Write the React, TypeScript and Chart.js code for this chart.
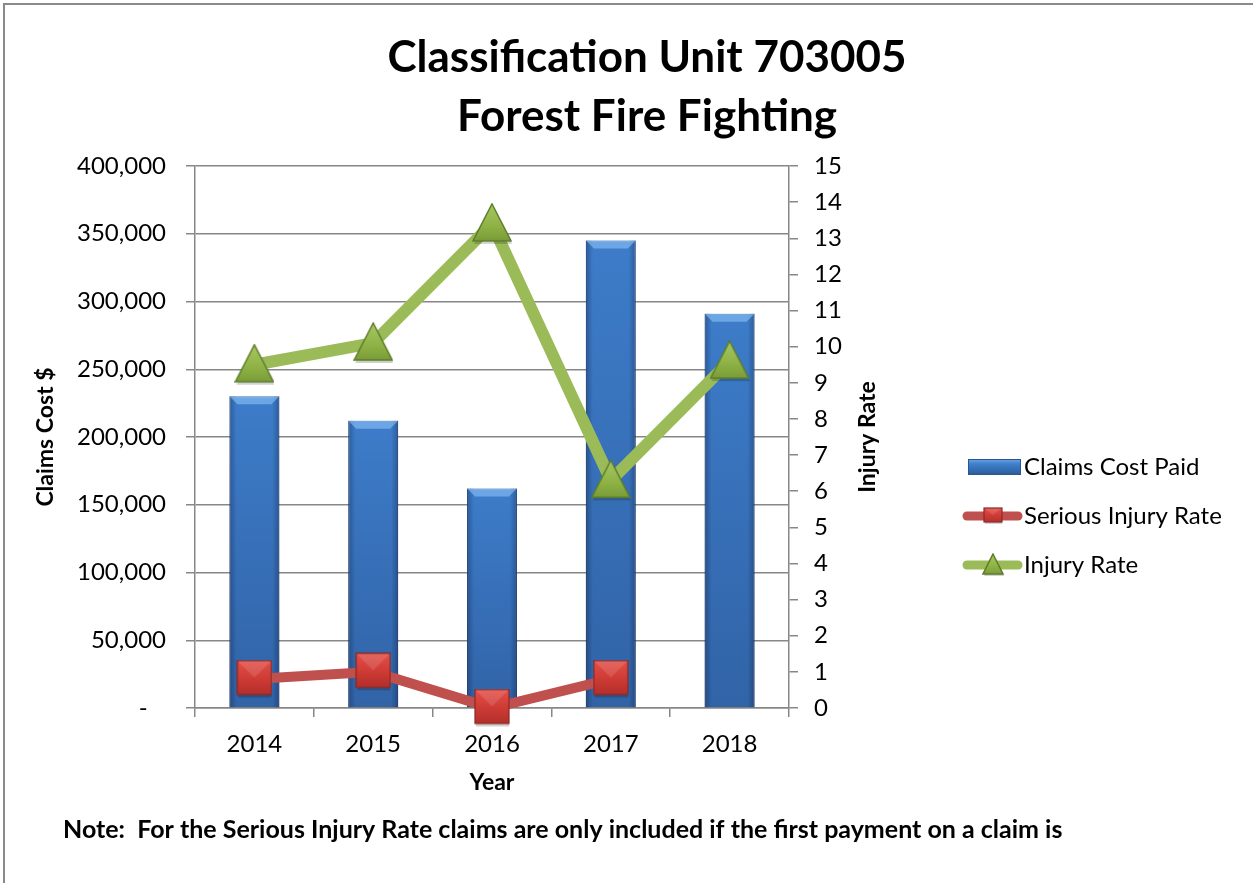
import React, { useEffect, useRef } from 'react';
import { Chart, registerables } from 'chart.js';

Chart.register(...registerables);

const years = ['2014', '2015', '2016', '2017', '2018'];
const claimsCostPaid = [230000, 212000, 162000, 345000, 291000];
const seriousInjuryRate = [0.8, 1.0, 0, 0.8, null];
const injuryRate = [9.5, 10.1, 13.4, 6.3, 9.6];
const seriesLabels = ['Claims Cost Paid', 'Serious Injury Rate', 'Injury Rate'];
const chartTitle = ['Classification Unit 703005', 'Forest Fire Fighting'];
const leftAxisTitle = 'Claims Cost $';
const rightAxisTitle = 'Injury Rate';
const xAxisTitle = 'Year';
const noteText = 'Note:  For the Serious Injury Rate claims are only included if the first payment on a claim is';

const FONT = 'Lato, "Open Sans", sans-serif';
const W = 1253;
const H = 883;
const GRID = '#878787';

function makeTriangle(w: number, h: number, shadow: number) {
  const c = document.createElement('canvas');
  c.width = w;
  c.height = h;
  const g = c.getContext('2d')!;
  const th = h - shadow;
  const path = (dx: number, dy: number) => {
    g.beginPath();
    g.moveTo(w / 2 + dx, 1 + dy);
    g.lineTo(w - 1 + dx, th - 1 + dy);
    g.lineTo(1 + dx, th - 1 + dy);
    g.closePath();
  };
  path(1, shadow);
  g.fillStyle = 'rgba(0,0,0,0.18)';
  g.fill();
  path(0, 0);
  const grad = g.createLinearGradient(0, 0, 0, th);
  grad.addColorStop(0, '#A8C964');
  grad.addColorStop(0.6, '#8FB246');
  grad.addColorStop(1, '#789B37');
  g.fillStyle = grad;
  g.fill();
  g.strokeStyle = '#5E7C2A';
  g.lineWidth = 1.5;
  g.stroke();
  return c;
}

function makeSquare(w: number, h: number, shadow: number) {
  const c = document.createElement('canvas');
  c.width = w;
  c.height = h;
  const g = c.getContext('2d')!;
  const s = h - shadow;
  g.fillStyle = 'rgba(0,0,0,0.18)';
  g.fillRect(2, 1 + shadow, w - 3, s - 2);
  const grad = g.createLinearGradient(0, 0, 0, s);
  grad.addColorStop(0, '#E4524C');
  grad.addColorStop(0.5, '#D03C36');
  grad.addColorStop(1, '#B12E2A');
  g.fillStyle = grad;
  g.fillRect(1, 1, w - 2, s - 2);
  g.fillStyle = 'rgba(255,255,255,0.12)';
  g.beginPath();
  g.moveTo(1, 1);
  g.lineTo(w - 1, 1);
  g.lineTo(w / 2, s / 2);
  g.closePath();
  g.fill();
  g.strokeStyle = '#8C2824';
  g.lineWidth = 1.2;
  g.strokeRect(1, 1, w - 2, s - 2);
  return c;
}

const fin = (...v: number[]) => v.every((n) => Number.isFinite(n));

const barShade = {
  id: 'barShade',
  afterDatasetDraw(chart: any, args: any) {
    if (args.index !== 0) return;
    const ctx = chart.ctx;
    args.meta.data.forEach((bar: any) => {
      const { x, y, base, width } = bar.getProps(['x', 'y', 'base', 'width'], true);
      if (!fin(x, y, base, width)) return;
      const l = x - width / 2;
      const r = x + width / 2;
      const bev = 8;
      ctx.save();
      const hg = ctx.createLinearGradient(l, 0, r, 0);
      hg.addColorStop(0, 'rgba(10,30,70,0.35)');
      hg.addColorStop(0.14, 'rgba(10,30,70,0)');
      hg.addColorStop(0.86, 'rgba(10,30,70,0)');
      hg.addColorStop(1, 'rgba(10,30,70,0.35)');
      ctx.fillStyle = hg;
      ctx.fillRect(l, y, width, base - y);
      const g = ctx.createLinearGradient(0, y, 0, base);
      g.addColorStop(0, 'rgba(0,0,30,0)');
      g.addColorStop(1, 'rgba(0,0,30,0.2)');
      ctx.fillStyle = g;
      ctx.fillRect(l, y + bev, width, base - y - bev);
      ctx.fillStyle = 'rgba(150,200,250,0.55)';
      ctx.beginPath();
      ctx.moveTo(l, y);
      ctx.lineTo(r, y);
      ctx.lineTo(r - bev, y + bev);
      ctx.lineTo(l + bev, y + bev);
      ctx.closePath();
      ctx.fill();
      ctx.restore();
    });
  },
};

const textsPlugin = {
  id: 'texts',
  afterDraw(chart: any) {
    const { ctx, chartArea } = chart;
    ctx.save();
    ctx.fillStyle = '#000';
    ctx.textAlign = 'center';
    ctx.textBaseline = 'middle';
    ctx.font = `bold 44px ${FONT}`;
    ctx.fillText(chartTitle[0], 647, 58);
    ctx.fillText(chartTitle[1], 647, 117);
    ctx.font = `bold 25px ${FONT}`;
    ctx.textAlign = 'left';
    ctx.fillText(noteText, 63, 830);
    ctx.font = `bold 23px ${FONT}`;
    ctx.textAlign = 'center';
    ctx.translate(868, (chartArea.top + chartArea.bottom) / 2);
    ctx.rotate(-Math.PI / 2);
    ctx.fillText(rightAxisTitle, 0, 0);
    ctx.restore();
  },
};

export default function App() {
  const ref = useRef<HTMLCanvasElement>(null);

  useEffect(() => {
    const canvas = ref.current;
    if (!canvas) return;
    const tri = makeTriangle(40, 42, 3);
    const sq = makeSquare(36, 39, 3);
    const triSmall = makeTriangle(22, 24, 2);
    const sqSmall = makeSquare(20, 18, 2);

    const legendPlugin = {
      id: 'customLegend',
      afterDraw(chart: any) {
        const { ctx } = chart;
        const ds = chart.data.datasets;
        const ys = [467, 516, 565];
        const xText = 1024;
        ctx.save();
        const g = ctx.createLinearGradient(0, ys[0] - 8, 0, ys[0] + 8);
        g.addColorStop(0, '#6FA6E6');
        g.addColorStop(0.3, '#3F80CD');
        g.addColorStop(1, '#2B5A98');
        ctx.fillStyle = g;
        ctx.fillRect(968, ys[0] - 8, 53, 16);
        ctx.strokeStyle = '#2A5590';
        ctx.lineWidth = 1;
        ctx.strokeRect(968.5, ys[0] - 7.5, 52, 15);
        const markers = [null, sqSmall, triSmall];
        for (let i = 1; i <= 2; i++) {
          ctx.strokeStyle = ds[i].borderColor;
          ctx.lineWidth = 9;
          ctx.lineCap = 'round';
          ctx.beginPath();
          ctx.moveTo(967, ys[i]);
          ctx.lineTo(1018, ys[i]);
          ctx.stroke();
          const m = markers[i]!;
          ctx.drawImage(m, 993 - m.width / 2, ys[i] - m.height / 2);
        }
        ctx.fillStyle = '#000';
        ctx.font = `24px ${FONT}`;
        ctx.textAlign = 'left';
        ctx.textBaseline = 'middle';
        for (let i = 0; i < 3; i++) ctx.fillText(ds[i].label, xText, ys[i]);
        ctx.restore();
      },
    };

    const tickFont = { family: FONT, size: 24 };
    const titleFont = { family: FONT, size: 23, weight: 'bold' as const };

    const chart = new Chart(canvas, {
      type: 'bar',
      data: {
        labels: years,
        datasets: [
          {
            type: 'bar',
            label: seriesLabels[0],
            data: claimsCostPaid,
            yAxisID: 'y',
            backgroundColor: '#3D7CC9',
            borderColor: '#2A5590',
            borderWidth: 1,
            barPercentage: 0.42,
            categoryPercentage: 1,
            order: 3,
          },
          {
            type: 'line',
            label: seriesLabels[1],
            data: seriousInjuryRate,
            yAxisID: 'y1',
            borderColor: '#C0504D',
            backgroundColor: '#C0504D',
            borderWidth: 10,
            pointStyle: sq,
            pointRadius: 18,
            tension: 0,
            spanGaps: false,
            clip: false,
            order: 2,
          },
          {
            type: 'line',
            label: seriesLabels[2],
            data: injuryRate,
            yAxisID: 'y1',
            borderColor: '#9BBB59',
            backgroundColor: '#9BBB59',
            borderWidth: 12,
            pointStyle: tri,
            pointRadius: 20,
            tension: 0,
            clip: false,
            order: 1,
          },
        ] as any,
      },
      options: {
        responsive: false,
        animation: false,
        devicePixelRatio: 1,
        layout: { padding: { left: 20, right: 0, top: 166, bottom: 60 } },
        plugins: {
          legend: { display: false },
          title: { display: false },
          tooltip: { enabled: false },
        },
        scales: {
          x: {
            position: 'bottom',
            grid: { drawOnChartArea: false, offset: true, color: GRID, lineWidth: 1.5, tickLength: 9 },
            border: { display: true, color: GRID, width: 1.5 },
            ticks: { font: tickFont, color: '#000', padding: 12.6 },
            title: {
              display: true,
              text: xAxisTitle,
              font: titleFont,
              color: '#000',
              padding: { top: 0, bottom: 27 },
            },
            afterFit: (s: any) => {
              s.height = 115;
            },
          },
          y: {
            position: 'left',
            min: 0,
            max: 400000,
            ticks: {
              stepSize: 50000,
              font: tickFont,
              color: '#000',
              padding: 20,
              callback: (v: any) =>
                Number(v) === 0 ? '-   ' : String(v).replace(/\B(?=(\d{3})+(?!\d))/g, ','),
            },
            grid: { color: GRID, lineWidth: 1.5, tickLength: 9 },
            border: { display: true, color: GRID, width: 1.5 },
            title: {
              display: true,
              text: leftAxisTitle,
              font: titleFont,
              color: '#000',
              padding: { top: 12, bottom: 0 },
            },
            afterFit: (s: any) => {
              s.width = 175;
            },
          },
          y1: {
            position: 'right',
            min: 0,
            max: 15,
            ticks: { stepSize: 1, font: tickFont, color: '#000', padding: 16 },
            grid: { drawOnChartArea: false, color: GRID, lineWidth: 1.5, tickLength: 9 },
            border: { display: true, color: GRID, width: 1.5 },
            afterFit: (s: any) => {
              s.width = W - 789;
            },
          },
        },
      } as any,
      plugins: [barShade, textsPlugin, legendPlugin],
    });
    return () => chart.destroy();
  }, []);

  return (
    <div style={{ position: 'absolute', left: 0, top: 0, width: W, height: H, overflow: 'hidden', background: '#fff' }}>
      <canvas ref={ref} width={W} height={H} style={{ display: 'block', width: W, height: H }} />
      <div
        style={{
          position: 'absolute',
          left: 3,
          top: 3,
          width: W,
          height: H + 10,
          borderLeft: '2px solid #8a8a8a',
          borderTop: '2px solid #8a8a8a',
          pointerEvents: 'none',
        }}
      />
    </div>
  );
}
